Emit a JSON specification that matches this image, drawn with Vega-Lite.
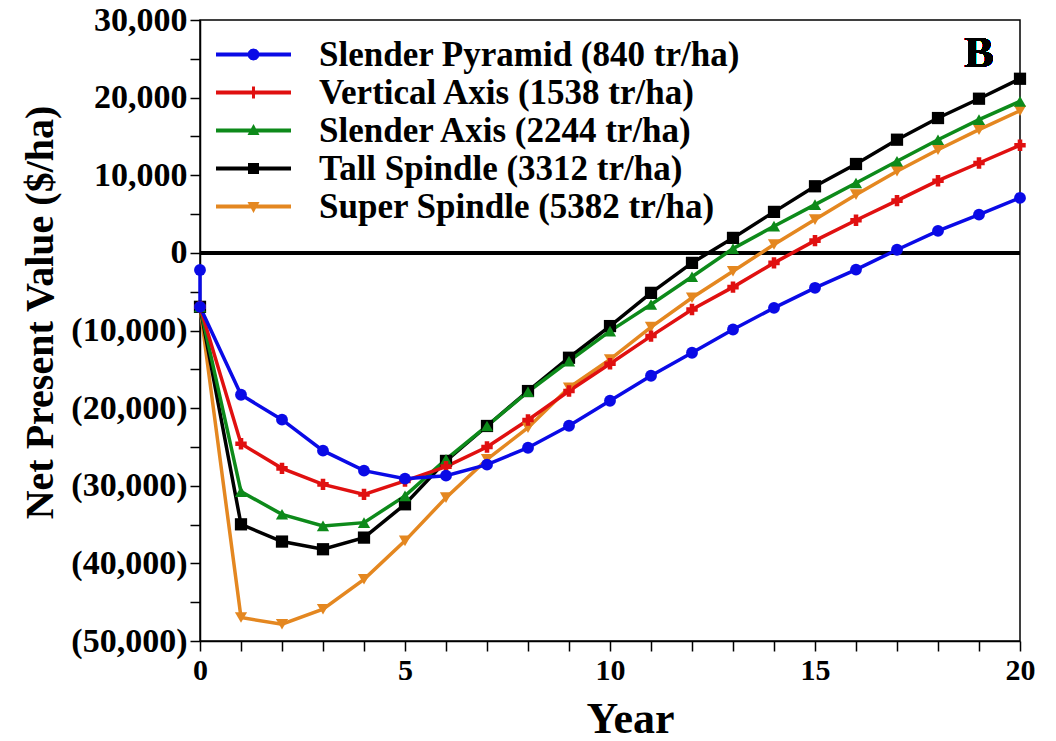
{
  "$schema": "https://vega.github.io/schema/vega-lite/v6.json",
  "width": 820,
  "height": 621,
  "autosize": "none",
  "padding": {"left": 200, "top": 20, "right": 36, "bottom": 100},
  "background": "white",
  "config": {
    "view": {"stroke": "black", "strokeWidth": 1.5},
    "font": "Liberation Serif",
    "axis": {
      "grid": false,
      "domainColor": "black",
      "domainWidth": 1.5,
      "tickColor": "black",
      "tickWidth": 1.5,
      "tickSize": 10,
      "labelFont": "Liberation Serif",
      "labelFontWeight": "bold",
      "labelFontSize": 30,
      "labelColor": "black",
      "titleFont": "Liberation Serif",
      "titleFontWeight": "bold",
      "titleColor": "black"
    }
  },
  "data": {
    "values": [
      {"s": "Super Spindle (5382 tr/ha)", "k": 0, "x": 0, "v": -6950},
      {"s": "Super Spindle (5382 tr/ha)", "k": 1, "x": 1, "v": -46980},
      {"s": "Super Spindle (5382 tr/ha)", "k": 2, "x": 2, "v": -47840},
      {"s": "Super Spindle (5382 tr/ha)", "k": 3, "x": 3, "v": -45910},
      {"s": "Super Spindle (5382 tr/ha)", "k": 4, "x": 4, "v": -42050},
      {"s": "Super Spindle (5382 tr/ha)", "k": 5, "x": 5, "v": -37100},
      {"s": "Super Spindle (5382 tr/ha)", "k": 6, "x": 6, "v": -31530},
      {"s": "Super Spindle (5382 tr/ha)", "k": 7, "x": 7, "v": -26600},
      {"s": "Super Spindle (5382 tr/ha)", "k": 8, "x": 8, "v": -22520},
      {"s": "Super Spindle (5382 tr/ha)", "k": 9, "x": 9, "v": -17370},
      {"s": "Super Spindle (5382 tr/ha)", "k": 10, "x": 10, "v": -13730},
      {"s": "Super Spindle (5382 tr/ha)", "k": 11, "x": 11, "v": -9570},
      {"s": "Super Spindle (5382 tr/ha)", "k": 12, "x": 12, "v": -5790},
      {"s": "Super Spindle (5382 tr/ha)", "k": 13, "x": 13, "v": -2360},
      {"s": "Super Spindle (5382 tr/ha)", "k": 14, "x": 14, "v": 1070},
      {"s": "Super Spindle (5382 tr/ha)", "k": 15, "x": 15, "v": 4290},
      {"s": "Super Spindle (5382 tr/ha)", "k": 16, "x": 16, "v": 7500},
      {"s": "Super Spindle (5382 tr/ha)", "k": 17, "x": 17, "v": 10510},
      {"s": "Super Spindle (5382 tr/ha)", "k": 18, "x": 18, "v": 13290},
      {"s": "Super Spindle (5382 tr/ha)", "k": 19, "x": 19, "v": 15870},
      {"s": "Super Spindle (5382 tr/ha)", "k": 20, "x": 20, "v": 18310},

      {"s": "Tall Spindle (3312 tr/ha)", "k": 0, "x": 0, "v": -6950},
      {"s": "Tall Spindle (3312 tr/ha)", "k": 1, "x": 1, "v": -34970},
      {"s": "Tall Spindle (3312 tr/ha)", "k": 2, "x": 2, "v": -37190},
      {"s": "Tall Spindle (3312 tr/ha)", "k": 3, "x": 3, "v": -38180},
      {"s": "Tall Spindle (3312 tr/ha)", "k": 4, "x": 4, "v": -36680},
      {"s": "Tall Spindle (3312 tr/ha)", "k": 5, "x": 5, "v": -32390},
      {"s": "Tall Spindle (3312 tr/ha)", "k": 6, "x": 6, "v": -26800},
      {"s": "Tall Spindle (3312 tr/ha)", "k": 7, "x": 7, "v": -22300},
      {"s": "Tall Spindle (3312 tr/ha)", "k": 8, "x": 8, "v": -17800},
      {"s": "Tall Spindle (3312 tr/ha)", "k": 9, "x": 9, "v": -13510},
      {"s": "Tall Spindle (3312 tr/ha)", "k": 10, "x": 10, "v": -9430},
      {"s": "Tall Spindle (3312 tr/ha)", "k": 11, "x": 11, "v": -5150},
      {"s": "Tall Spindle (3312 tr/ha)", "k": 12, "x": 12, "v": -1290},
      {"s": "Tall Spindle (3312 tr/ha)", "k": 13, "x": 13, "v": 1930},
      {"s": "Tall Spindle (3312 tr/ha)", "k": 14, "x": 14, "v": 5280},
      {"s": "Tall Spindle (3312 tr/ha)", "k": 15, "x": 15, "v": 8580},
      {"s": "Tall Spindle (3312 tr/ha)", "k": 16, "x": 16, "v": 11450},
      {"s": "Tall Spindle (3312 tr/ha)", "k": 17, "x": 17, "v": 14580},
      {"s": "Tall Spindle (3312 tr/ha)", "k": 18, "x": 18, "v": 17370},
      {"s": "Tall Spindle (3312 tr/ha)", "k": 19, "x": 19, "v": 19860},
      {"s": "Tall Spindle (3312 tr/ha)", "k": 20, "x": 20, "v": 22430},

      {"s": "Slender Axis (2244 tr/ha)", "k": 0, "x": 0, "v": -6950},
      {"s": "Slender Axis (2244 tr/ha)", "k": 1, "x": 1, "v": -30760},
      {"s": "Slender Axis (2244 tr/ha)", "k": 2, "x": 2, "v": -33680},
      {"s": "Slender Axis (2244 tr/ha)", "k": 3, "x": 3, "v": -35170},
      {"s": "Slender Axis (2244 tr/ha)", "k": 4, "x": 4, "v": -34750},
      {"s": "Slender Axis (2244 tr/ha)", "k": 5, "x": 5, "v": -31310},
      {"s": "Slender Axis (2244 tr/ha)", "k": 6, "x": 6, "v": -26600},
      {"s": "Slender Axis (2244 tr/ha)", "k": 7, "x": 7, "v": -22300},
      {"s": "Slender Axis (2244 tr/ha)", "k": 8, "x": 8, "v": -17890},
      {"s": "Slender Axis (2244 tr/ha)", "k": 9, "x": 9, "v": -13940},
      {"s": "Slender Axis (2244 tr/ha)", "k": 10, "x": 10, "v": -10080},
      {"s": "Slender Axis (2244 tr/ha)", "k": 11, "x": 11, "v": -6650},
      {"s": "Slender Axis (2244 tr/ha)", "k": 12, "x": 12, "v": -3080},
      {"s": "Slender Axis (2244 tr/ha)", "k": 13, "x": 13, "v": 550},
      {"s": "Slender Axis (2244 tr/ha)", "k": 14, "x": 14, "v": 3440},
      {"s": "Slender Axis (2244 tr/ha)", "k": 15, "x": 15, "v": 6220},
      {"s": "Slender Axis (2244 tr/ha)", "k": 16, "x": 16, "v": 9010},
      {"s": "Slender Axis (2244 tr/ha)", "k": 17, "x": 17, "v": 11800},
      {"s": "Slender Axis (2244 tr/ha)", "k": 18, "x": 18, "v": 14580},
      {"s": "Slender Axis (2244 tr/ha)", "k": 19, "x": 19, "v": 17160},
      {"s": "Slender Axis (2244 tr/ha)", "k": 20, "x": 20, "v": 19520},

      {"s": "Vertical Axis (1538 tr/ha)", "k": 0, "x": 0, "v": -6950},
      {"s": "Vertical Axis (1538 tr/ha)", "k": 1, "x": 1, "v": -24580},
      {"s": "Vertical Axis (1538 tr/ha)", "k": 2, "x": 2, "v": -27760},
      {"s": "Vertical Axis (1538 tr/ha)", "k": 3, "x": 3, "v": -29820},
      {"s": "Vertical Axis (1538 tr/ha)", "k": 4, "x": 4, "v": -31110},
      {"s": "Vertical Axis (1538 tr/ha)", "k": 5, "x": 5, "v": -29380},
      {"s": "Vertical Axis (1538 tr/ha)", "k": 6, "x": 6, "v": -27540},
      {"s": "Vertical Axis (1538 tr/ha)", "k": 7, "x": 7, "v": -25010},
      {"s": "Vertical Axis (1538 tr/ha)", "k": 8, "x": 8, "v": -21530},
      {"s": "Vertical Axis (1538 tr/ha)", "k": 9, "x": 9, "v": -17800},
      {"s": "Vertical Axis (1538 tr/ha)", "k": 10, "x": 10, "v": -14290},
      {"s": "Vertical Axis (1538 tr/ha)", "k": 11, "x": 11, "v": -10720},
      {"s": "Vertical Axis (1538 tr/ha)", "k": 12, "x": 12, "v": -7300},
      {"s": "Vertical Axis (1538 tr/ha)", "k": 13, "x": 13, "v": -4410},
      {"s": "Vertical Axis (1538 tr/ha)", "k": 14, "x": 14, "v": -1290},
      {"s": "Vertical Axis (1538 tr/ha)", "k": 15, "x": 15, "v": 1580},
      {"s": "Vertical Axis (1538 tr/ha)", "k": 16, "x": 16, "v": 4210},
      {"s": "Vertical Axis (1538 tr/ha)", "k": 17, "x": 17, "v": 6730},
      {"s": "Vertical Axis (1538 tr/ha)", "k": 18, "x": 18, "v": 9300},
      {"s": "Vertical Axis (1538 tr/ha)", "k": 19, "x": 19, "v": 11580},
      {"s": "Vertical Axis (1538 tr/ha)", "k": 20, "x": 20, "v": 13860},

      {"s": "Slender Pyramid (840 tr/ha)", "k": 0, "x": 0, "v": -2200},
      {"s": "Slender Pyramid (840 tr/ha)", "k": 1, "x": 0, "v": -6950},
      {"s": "Slender Pyramid (840 tr/ha)", "k": 2, "x": 1, "v": -18280},
      {"s": "Slender Pyramid (840 tr/ha)", "k": 3, "x": 2, "v": -21490},
      {"s": "Slender Pyramid (840 tr/ha)", "k": 4, "x": 3, "v": -25480},
      {"s": "Slender Pyramid (840 tr/ha)", "k": 5, "x": 4, "v": -28060},
      {"s": "Slender Pyramid (840 tr/ha)", "k": 6, "x": 5, "v": -29090},
      {"s": "Slender Pyramid (840 tr/ha)", "k": 7, "x": 6, "v": -28700},
      {"s": "Slender Pyramid (840 tr/ha)", "k": 8, "x": 7, "v": -27280},
      {"s": "Slender Pyramid (840 tr/ha)", "k": 9, "x": 8, "v": -25100},
      {"s": "Slender Pyramid (840 tr/ha)", "k": 10, "x": 9, "v": -22270},
      {"s": "Slender Pyramid (840 tr/ha)", "k": 11, "x": 10, "v": -19050},
      {"s": "Slender Pyramid (840 tr/ha)", "k": 12, "x": 11, "v": -15830},
      {"s": "Slender Pyramid (840 tr/ha)", "k": 13, "x": 12, "v": -12870},
      {"s": "Slender Pyramid (840 tr/ha)", "k": 14, "x": 13, "v": -9870},
      {"s": "Slender Pyramid (840 tr/ha)", "k": 15, "x": 14, "v": -7080},
      {"s": "Slender Pyramid (840 tr/ha)", "k": 16, "x": 15, "v": -4500},
      {"s": "Slender Pyramid (840 tr/ha)", "k": 17, "x": 16, "v": -2150},
      {"s": "Slender Pyramid (840 tr/ha)", "k": 18, "x": 17, "v": 400},
      {"s": "Slender Pyramid (840 tr/ha)", "k": 19, "x": 18, "v": 2830},
      {"s": "Slender Pyramid (840 tr/ha)", "k": 20, "x": 19, "v": 4930},
      {"s": "Slender Pyramid (840 tr/ha)", "k": 21, "x": 20, "v": 7080}
    ]
  },
  "encoding": {
    "x": {
      "field": "x",
      "type": "quantitative",
      "scale": {"domain": [0, 20], "nice": false, "zero": false},
      "axis": {
        "title": "Year",
        "titleFontSize": 44,
        "titleBaseline": "alphabetic",
        "titleY": 91,
        "titleX": 430,
        "values": [0,1,2,3,4,5,6,7,8,9,10,11,12,13,14,15,16,17,18,19,20],
        "labelExpr": "datum.value % 5 === 0 ? format(datum.value, 'd') : ''",
        "labelPadding": 4,
        "labelFlush": false,
        "labelOverlap": false
      }
    },
    "y": {
      "field": "v",
      "type": "quantitative",
      "scale": {"domain": [-50000, 30000], "nice": false, "zero": false},
      "axis": {
        "title": "Net Present Value ($/ha)",
        "titleFontSize": 40,
        "titleAngle": -90,
        "titleX": -160,
        "titleY": 292,
        "titleBaseline": "middle",
        "titleAlign": "center",
        "labelFontSize": 34,
        "values": [-50000,-45000,-40000,-35000,-30000,-25000,-20000,-15000,-10000,-5000,0,5000,10000,15000,20000,25000,30000],
        "labelExpr": "datum.value % 10000 !== 0 ? '' : (datum.value < 0 ? '(' + format(-datum.value, ',') + ')' : format(datum.value, ','))",
        "labelPadding": 3,
        "labelFlush": false,
        "labelOverlap": false
      }
    },
    "color": {
      "field": "s",
      "type": "nominal",
      "scale": {
        "domain": ["Slender Pyramid (840 tr/ha)", "Vertical Axis (1538 tr/ha)", "Slender Axis (2244 tr/ha)", "Tall Spindle (3312 tr/ha)", "Super Spindle (5382 tr/ha)"],
        "range": ["#0a0ae6", "#e01010", "#0d8a1a", "#000000", "#e48720"]
      },
      "legend": {
        "title": null,
        "orient": "none",
        "legendX": 36,
        "legendY": 17,
        "padding": 0,
        "labelFont": "Liberation Serif",
        "labelFontSize": 35,
        "labelFontWeight": "bold",
        "labelColor": "black",
        "labelLimit": 800,
        "symbolSize": 400,
        "rowPadding": 2,
        "labelOffset": 48,
        "encode": {
          "symbols": {
            "update": {
              "shape": {"signal": "['M-3.75,-0.2H3.75V0.2H-3.75Z M0.6,0L0.52,0.3L0.3,0.52L0,0.6L-0.3,0.52L-0.52,0.3L-0.6,0L-0.52,-0.3L-0.3,-0.52L0,-0.6L0.3,-0.52L0.52,-0.3Z', 'M-3.75,-0.2H3.75V0.2H-3.75Z M-0.15,-0.6H0.15V-0.15H0.6V0.15H0.15V0.6H-0.15V0.15H-0.6V-0.15H-0.15Z', 'M-3.75,-0.2H3.75V0.2H-3.75Z M0,-0.65L0.6,0.45H-0.6Z', 'M-3.75,-0.2H3.75V0.2H-3.75Z M-0.55,-0.55H0.55V0.55H-0.55Z', 'M-3.75,-0.2H3.75V0.2H-3.75Z M0,0.65L-0.6,-0.45H0.6Z'][indexof(['Slender Pyramid (840 tr/ha)', 'Vertical Axis (1538 tr/ha)', 'Slender Axis (2244 tr/ha)', 'Tall Spindle (3312 tr/ha)', 'Super Spindle (5382 tr/ha)'], datum.value)]"},
              "fill": {"scale": "color", "field": "value"},
              "stroke": {"value": "transparent"},
              "strokeWidth": {"value": 0},
              "opacity": {"value": 1}
            }
          }
        }
      }
    }
  },
  "layer": [
    {
      "mark": {"type": "rule", "color": "black", "strokeWidth": 3.5},
      "encoding": {"y": {"datum": 0}, "x": {"datum": 0}, "x2": {"datum": 20}, "color": {"value": "black"}}
    },
    {
      "mark": {"type": "line", "strokeWidth": 3.5},
      "encoding": {"order": {"field": "k"}}
    },
    {
      "transform": [{"filter": "datum.s === 'Super Spindle (5382 tr/ha)'"}],
      "mark": {"type": "point", "filled": true, "opacity": 1, "size": 150, "shape": "triangle-down"}
    },
    {
      "transform": [{"filter": "datum.s === 'Tall Spindle (3312 tr/ha)'"}],
      "mark": {"type": "point", "filled": true, "opacity": 1, "size": 150, "shape": "square"}
    },
    {
      "transform": [{"filter": "datum.s === 'Slender Axis (2244 tr/ha)'"}],
      "mark": {"type": "point", "filled": true, "opacity": 1, "size": 150, "shape": "triangle-up"}
    },
    {
      "transform": [{"filter": "datum.s === 'Vertical Axis (1538 tr/ha)'"}],
      "mark": {"type": "point", "filled": true, "opacity": 1, "size": 130, "shape": "cross"}
    },
    {
      "transform": [{"filter": "datum.s === 'Slender Pyramid (840 tr/ha)'"}],
      "mark": {"type": "point", "filled": true, "opacity": 1, "size": 140, "shape": "circle"}
    },
    {
      "mark": {"type": "text", "text": "B", "font": "Liberation Serif", "fontSize": 44, "fontWeight": "bold", "align": "center", "baseline": "alphabetic", "color": "black"},
      "encoding": {"x": {"datum": 19}, "y": {"datum": 24000}, "color": {"value": "black"}}
    }
  ]
}
